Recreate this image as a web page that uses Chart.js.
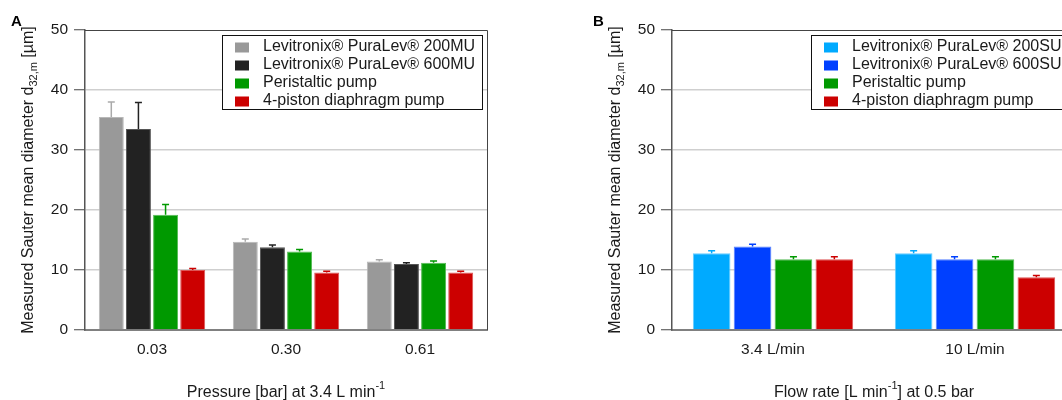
<!DOCTYPE html>
<html><head><meta charset="utf-8">
<script src="https://cdn.jsdelivr.net/npm/chart.js@4/dist/chart.umd.min.js"></script>
<style>
html,body{margin:0;padding:0;width:1062px;height:400px;overflow:hidden;background:#fff;}
#ca{position:absolute;left:0;top:0;}
#cb{position:absolute;left:560px;top:0;}
</style></head><body>
<canvas id="ca" width="520" height="400"></canvas>
<canvas id="cb" width="540" height="400"></canvas>
<script>
// ---------- data ----------
const pressureCategories = ['0.03', '0.30', '0.61'];
const flowCategories = ['3.4 L/min', '10 L/min'];
const yMin = 0, yMax = 50, yStep = 10;

const seriesNamesA = ['Levitronix® PuraLev® 200MU', 'Levitronix® PuraLev® 600MU', 'Peristaltic pump', '4-piston diaphragm pump'];
const seriesNamesB = ['Levitronix® PuraLev® 200SU', 'Levitronix® PuraLev® 600SU', 'Peristaltic pump', '4-piston diaphragm pump'];

// Panel A (pressure at 3.4 L/min)
const puraLev200MU = [35.5, 14.7, 11.4];
const puraLev200MUErr = [2.5, 0.45, 0.3];
const puraLev600MU = [33.5, 13.8, 11.0];
const puraLev600MUErr = [4.4, 0.35, 0.2];
const peristalticA = [19.2, 13.1, 11.2];
const peristalticAErr = [1.7, 0.3, 0.3];
const diaphragmA = [10.0, 9.6, 9.6];
const diaphragmAErr = [0.25, 0.2, 0.2];

// Panel B (flow rate at 0.5 bar)
const puraLev200SU = [12.8, 12.8];
const puraLev200SUErr = [0.4, 0.4];
const puraLev600SU = [13.9, 11.8];
const puraLev600SUErr = [0.4, 0.4];
const peristalticB = [11.8, 11.8];
const peristalticBErr = [0.4, 0.4];
const diaphragmB = [11.8, 8.8];
const diaphragmBErr = [0.4, 0.3];

// ---------- styling ----------
const FONT = "'Liberation Sans', Arial, sans-serif";
const TXT = '#1a1a1a';

function mkDs(label, data, errors, color, edge, errColor) {
  return {
    label, data, errors, errColor,
    backgroundColor: color, borderColor: edge, borderWidth: 1, borderSkipped: 'bottom',
    barPercentage: 0.92, categoryPercentage: 0.81
  };
}

const errorBarPlugin = {
  id: 'errorBars',
  afterDatasetsDraw(chart) {
    const ctx = chart.ctx, ys = chart.scales.y;
    chart.data.datasets.forEach((ds, i) => {
      const meta = chart.getDatasetMeta(i);
      meta.data.forEach((bar, j) => {
        const v = ds.data[j], e = ds.errors[j];
        const yTop = ys.getPixelForValue(v + e), yVal = ys.getPixelForValue(v);
        ctx.save();
        ctx.strokeStyle = ds.errColor; ctx.lineWidth = 1.5;
        ctx.beginPath();
        ctx.moveTo(bar.x, yVal); ctx.lineTo(bar.x, yTop);
        ctx.moveTo(bar.x - 3.5, yTop); ctx.lineTo(bar.x + 3.5, yTop);
        ctx.stroke();
        ctx.restore();
      });
    });
  }
};

const decorPlugin = {
  id: 'decor',
  afterDraw(chart, args, opts) {
    const ctx = chart.ctx, a = chart.chartArea;
    ctx.save();
    // top & right frame
    ctx.strokeStyle = '#444'; ctx.lineWidth = 1;
    ctx.beginPath();
    ctx.moveTo(a.left, a.top + 0.5); ctx.lineTo(a.right + 0.5, a.top + 0.5);
    ctx.lineTo(a.right + 0.5, a.bottom);
    ctx.stroke();

    // legend
    const bw = 260, bh = 74;
    const bx = a.right - 5 - bw, by = a.top + 5;
    ctx.fillStyle = '#fff';
    ctx.fillRect(bx, by, bw, bh);
    ctx.strokeStyle = '#111'; ctx.lineWidth = 1;
    ctx.strokeRect(Math.round(bx) + 0.5, Math.round(by) + 0.5, bw, bh);
    ctx.font = '16px ' + FONT;
    ctx.textBaseline = 'middle'; ctx.textAlign = 'left';
    chart.data.datasets.forEach((ds, i) => {
      const cy = by + 11.5 + i * 18;
      ctx.fillStyle = ds.backgroundColor;
      ctx.fillRect(bx + 13, cy - 4, 14, 10);
      ctx.fillStyle = TXT;
      ctx.fillText(ds.label, bx + 41, cy);
    });

    // panel letter
    ctx.font = 'bold 15px ' + FONT;
    ctx.fillStyle = '#000';
    ctx.textBaseline = 'alphabetic';
    ctx.fillText(opts.letter, opts.letterX, 26);

    // y title (rotated, with subscript)
    const yParts = opts.yTitle;
    const mainF = '16px ' + FONT, subF = '11px ' + FONT;
    let total = 0;
    yParts.forEach(p => { ctx.font = p.sub ? subF : mainF; total += ctx.measureText(p.t).width; });
    ctx.save();
    ctx.translate(a.left - 58, (a.top + a.bottom) / 2);
    ctx.rotate(-Math.PI / 2);
    let x = -total / 2;
    yParts.forEach(p => {
      ctx.font = p.sub ? subF : mainF;
      ctx.fillStyle = TXT;
      ctx.fillText(p.t, x, p.sub ? 9.5 : 6);
      x += ctx.measureText(p.t).width;
    });
    ctx.restore();

    // x title with superscript
    const xParts = opts.xTitle;
    total = 0;
    xParts.forEach(p => { ctx.font = p.sup ? subF : mainF; total += ctx.measureText(p.t).width; });
    x = (a.left + a.right) / 2 - total / 2;
    xParts.forEach(p => {
      ctx.font = p.sup ? subF : mainF;
      ctx.fillStyle = TXT;
      ctx.fillText(p.t, x, p.sup ? 389 : 397);
      x += ctx.measureText(p.t).width;
    });
    ctx.restore();
  }
};

const yTitleParts = [{t: 'Measured Sauter mean diameter d'}, {t: '32,m', sub: true}, {t: ' [µm]'}];

function makeOptions(yWidth, padRight, letter, letterX, xTitle) {
  return {
    responsive: false,
    animation: false,
    layout: {padding: {top: 30, right: padRight, bottom: 0, left: 0}},
    plugins: {
      legend: {display: false}, tooltip: {enabled: false},
      decor: {letter, letterX, yTitle: yTitleParts, xTitle}
    },
    scales: {
      x: {
        grid: {display: false, drawTicks: false},
        border: {display: true, color: '#808080', width: 2},
        ticks: {font: {family: FONT, size: 15.5}, color: TXT, padding: 10},
        afterFit: s => { s.height = 70; }
      },
      y: {
        min: yMin, max: yMax,
        ticks: {stepSize: yStep, font: {family: FONT, size: 15.5}, color: TXT, padding: 6},
        grid: {
          color: c => (c.tick && c.tick.value > yMin && c.tick.value < yMax) ? '#cfcfcf' : 'rgba(0,0,0,0)',
          lineWidth: 1.5, tickColor: '#444', tickLength: 11, tickWidth: 1
        },
        border: {display: true, color: '#555', width: 1.5},
        afterFit: s => { s.width = yWidth; }
      }
    }
  };
}

new Chart(document.getElementById('ca'), {
  type: 'bar',
  data: {
    labels: pressureCategories,
    datasets: [
      mkDs(seriesNamesA[0], puraLev200MU, puraLev200MUErr, '#999999', '#b8b8b8', '#aaaaaa'),
      mkDs(seriesNamesA[1], puraLev600MU, puraLev600MUErr, '#222222', '#555555', '#222222'),
      mkDs(seriesNamesA[2], peristalticA, peristalticAErr, '#009900', '#55bb55', '#009900'),
      mkDs(seriesNamesA[3], diaphragmA, diaphragmAErr, '#cc0000', '#dd5555', '#cc0000')
    ]
  },
  options: makeOptions(85, 33, 'A', 11, [{t: 'Pressure [bar] at 3.4 L min'}, {t: '-1', sup: true}]),
  plugins: [errorBarPlugin, decorPlugin]
});

new Chart(document.getElementById('cb'), {
  type: 'bar',
  data: {
    labels: flowCategories,
    datasets: [
      mkDs(seriesNamesB[0], puraLev200SU, puraLev200SUErr, '#00aaff', '#66ccff', '#00aaff'),
      mkDs(seriesNamesB[1], puraLev600SU, puraLev600SUErr, '#0040ff', '#5580ff', '#0040ff'),
      mkDs(seriesNamesB[2], peristalticB, peristalticBErr, '#009900', '#55bb55', '#009900'),
      mkDs(seriesNamesB[3], diaphragmB, diaphragmBErr, '#cc0000', '#dd5555', '#cc0000')
    ]
  },
  options: makeOptions(112, 24, 'B', 33, [{t: 'Flow rate [L min'}, {t: '-1', sup: true}, {t: '] at 0.5 bar'}]),
  plugins: [errorBarPlugin, decorPlugin]
});
</script>
</body></html>
